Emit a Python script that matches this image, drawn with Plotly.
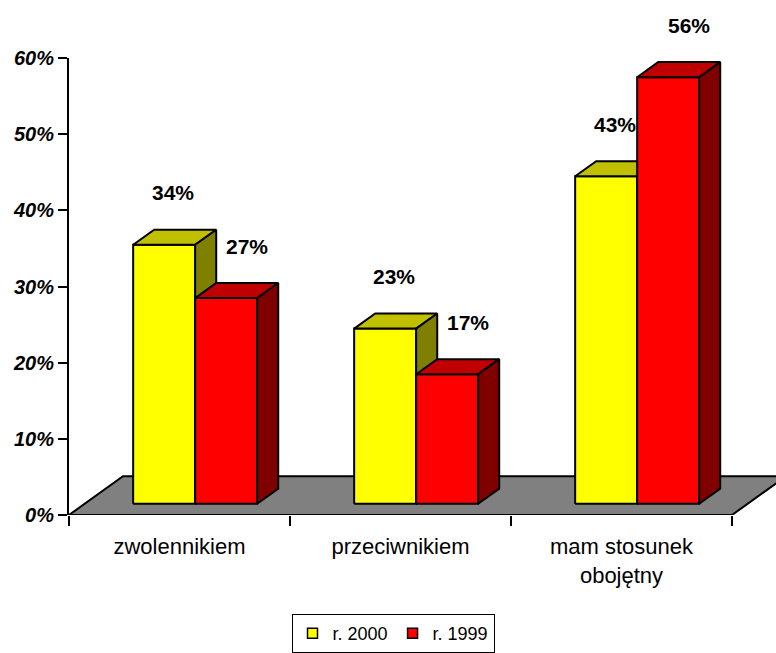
import plotly.graph_objects as go

# ---------------- data ----------------
categories = ["zwolennikiem", "przeciwnikiem", "mam stosunek<br>obojętny"]
series_names = ["r. 2000", "r. 1999"]
values_2000 = [34, 23, 43]
values_1999 = [27, 17, 56]
y_tick_values = [0, 10, 20, 30, 40, 50, 60]
y_tick_labels = ["0%", "10%", "20%", "30%", "40%", "50%", "60%"]

# ---------------- style / geometry ----------------
W_PX, H_PX = 776, 653
M_L, M_R, M_T, M_B = 69, 0, 58, 135
PX_PER_CAT = 221.0
PX_PER_PCT = (H_PX - M_T - M_B) / 60.0
X_MAX = (W_PX - M_L - M_R) / PX_PER_CAT

FLOOR_DX = 54 / PX_PER_CAT          # depth vector of the floor (data units)
FLOOR_DY = 39 / PX_PER_PCT
BAR_FRONT = 0.29                    # fraction of depth where bar fronts sit
BAR_DEPTH = 0.39                    # fraction of depth that bars occupy
BAR_W = 62 / PX_PER_CAT
LABEL_GAP_PX = 37
LABEL_SHIFT_PX = [-2, 10]

shift_x = BAR_FRONT * FLOOR_DX
base_y = BAR_FRONT * FLOOR_DY
dx = BAR_DEPTH * FLOOR_DX
dy = BAR_DEPTH * FLOOR_DY

colors = [
    {"front": "#FFFF00", "top": "#C0C000", "side": "#808000"},
    {"front": "#FF0000", "top": "#C00000", "side": "#800000"},
]
FONT = "Liberation Sans, Arial, sans-serif"
LW = 2

fig = go.Figure()

def poly_trace(polys, color):
    xs, ys = [], []
    for p in polys:
        for (a, b) in p + [p[0]]:
            xs.append(a)
            ys.append(b)
        xs.append(None)
        ys.append(None)
    return go.Scatter(x=xs, y=ys, mode="lines", fill="toself", fillcolor=color,
                      line=dict(color="black", width=LW), hoverinfo="skip",
                      showlegend=False)

# floor
n = len(categories)
floor = [[(0, 0), (n, 0), (n + FLOOR_DX, FLOOR_DY), (FLOOR_DX, FLOOR_DY)]]
fig.add_trace(poly_trace(floor, "#808080"))

all_series = [values_2000, values_1999]
annotations = []
for s, vals in enumerate(all_series):
    fronts, tops, sides = [], [], []
    for i, v in enumerate(vals):
        x0 = i + 0.5 - BAR_W + s * BAR_W + shift_x
        x1 = x0 + BAR_W
        y0 = base_y
        y1 = base_y + v
        fronts.append([(x0, y0), (x1, y0), (x1, y1), (x0, y1)])
        tops.append([(x0, y1), (x1, y1), (x1 + dx, y1 + dy), (x0 + dx, y1 + dy)])
        sides.append([(x1, y0), (x1 + dx, y0 + dy), (x1 + dx, y1 + dy), (x1, y1)])
        annotations.append(dict(
            x=x0 + BAR_W / 2 + dx / 2, y=y1 + dy, xref="x", yref="y",
            text=f"{v}%", showarrow=False, xanchor="center", yanchor="middle",
            xshift=LABEL_SHIFT_PX[s], yshift=LABEL_GAP_PX,
            font=dict(family=FONT, size=21, color="black", weight="bold")))
    fig.add_trace(poly_trace(fronts, colors[s]["front"]))
    fig.add_trace(poly_trace(tops, colors[s]["top"]))
    fig.add_trace(poly_trace(sides, colors[s]["side"]))

# legend entries
for s, name in enumerate(series_names):
    fig.add_trace(go.Scatter(x=[None], y=[None], mode="markers", name=name,
                             xaxis="x2",
                             marker=dict(symbol="square", size=10, color=colors[s]["front"],
                                         line=dict(color="black", width=1.5))))

fig.update_layout(
    width=W_PX, height=H_PX,
    margin=dict(l=M_L, r=M_R, t=M_T, b=M_B, pad=0),
    paper_bgcolor="white", plot_bgcolor="white",
    showlegend=True,
    annotations=annotations,
    legend=dict(orientation="h", x=(393 - M_L) / (W_PX - M_L - M_R), xanchor="center",
                y=-(618 - (H_PX - M_B)) / (H_PX - M_T - M_B), yanchor="top",
                bordercolor="black", borderwidth=1, bgcolor="white",
                font=dict(family=FONT, size=18, color="black"),
                itemwidth=30, tracegroupgap=0),
    xaxis=dict(range=[0, X_MAX], showgrid=False, zeroline=False, showline=False,
               tickmode="array", tickvals=[i + 0.5 for i in range(n)], ticktext=categories,
               ticks="", tickfont=dict(family=FONT, size=22, color="black"),
               ticklabelstandoff=16),
    xaxis2=dict(range=[0, X_MAX], overlaying="x", side="bottom", showgrid=False,
                zeroline=False, showline=False, tickmode="array",
                tickvals=list(range(n + 1)), ticks="outside", ticklen=10, tickwidth=2,
                tickcolor="black", showticklabels=False),
    yaxis=dict(range=[0, 60], showgrid=False, zeroline=False, showline=True,
               linecolor="black", linewidth=2, ticks="outside", ticklen=9, tickwidth=2,
               tickcolor="black", tickmode="array", tickvals=y_tick_values,
               ticktext=y_tick_labels,
               tickfont=dict(family=FONT, size=20, color="black", weight="bold",
                             style="italic")),
)

fig.write_html("out.html",
               config={"displayModeBar": False, "staticPlot": True},
               post_script="document.body.style.margin='0';document.body.style.overflow='hidden';")
